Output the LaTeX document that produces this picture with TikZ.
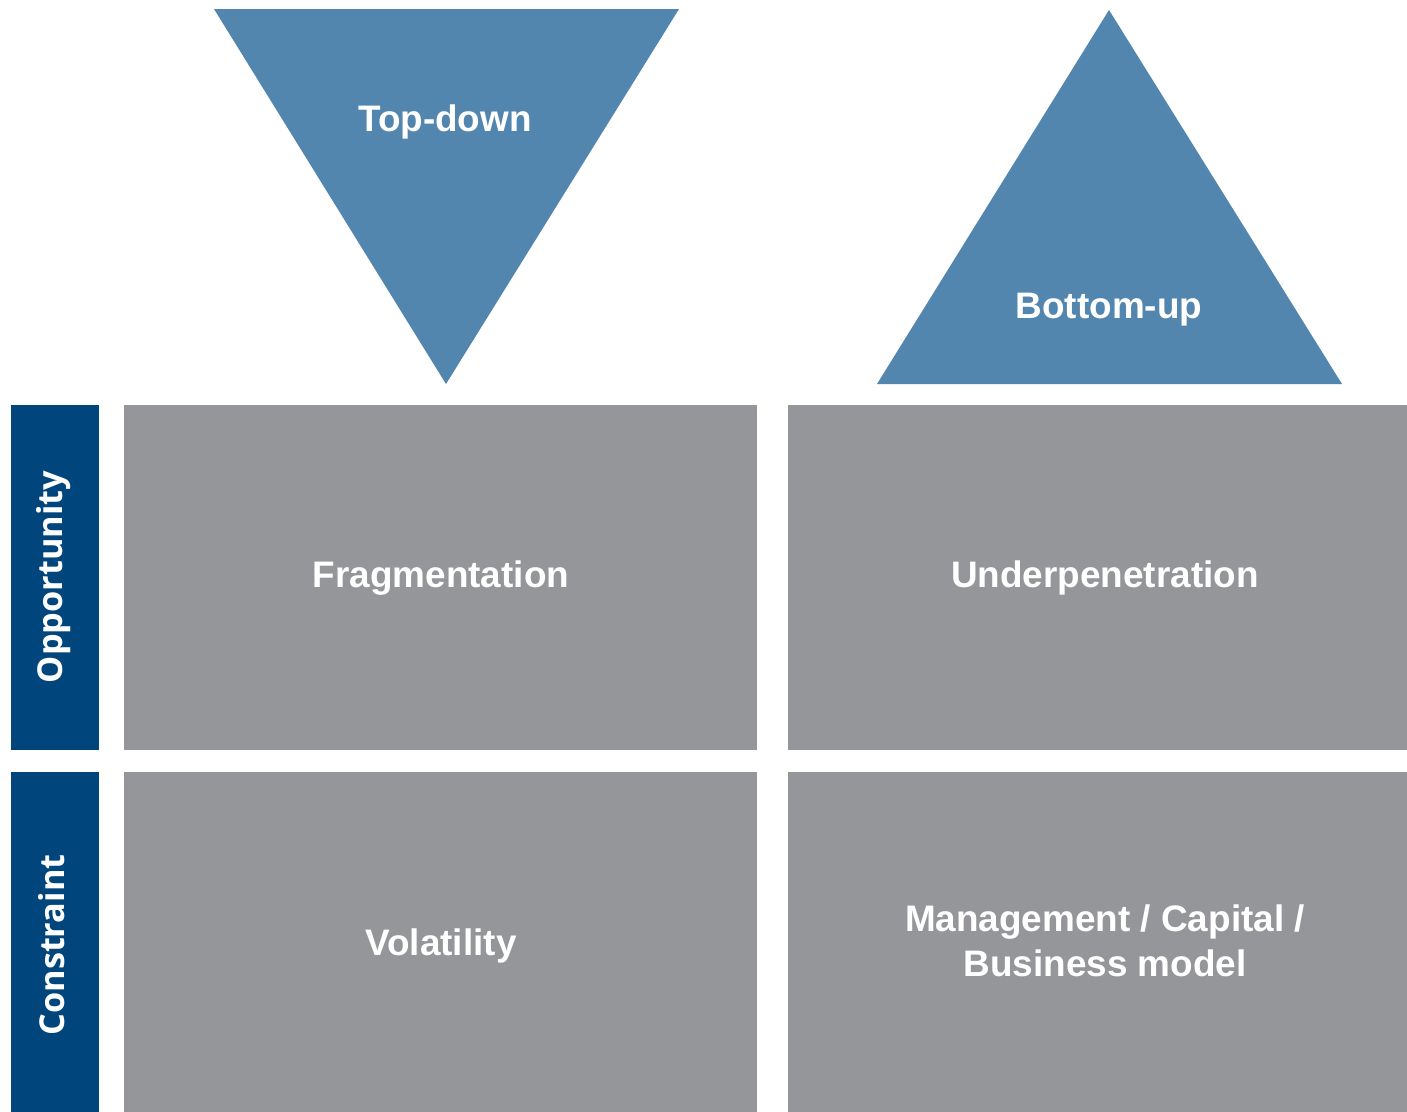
\documentclass[tikz,border=0pt]{standalone}
\usepackage{fontspec}
\setmainfont{Liberation Sans}
\newfontfamily\sidefont{Open Sans}
\usetikzlibrary{calc}
\definecolor{triblue}{HTML}{5386AF}
\definecolor{barblue}{HTML}{00457C}
\definecolor{boxgray}{HTML}{959699}
\tikzset{
  celltext/.style={text=white,font=\bfseries\fontsize{21}{25.5}\selectfont,align=center},
  sidetext/.style={text=white,font=\sidefont\bfseries\fontsize{19.5}{23}\selectfont,rotate=90}
}

\begin{document}
\begin{tikzpicture}[x=0.02cm,y=-0.02cm]
\useasboundingbox (0,0) rectangle (1407,1112);
%% triangles
\fill[triblue] (214,9) -- (679,9) -- (446,384) -- cycle;
\fill[triblue] (1109,10) -- (1342,384) -- (877,384) -- cycle;
\node[celltext] (topdown) at (445,122) {Top-down};
\node[celltext] (bottomup) at (1109,310) {Bottom-up};
%% side bars
\fill[barblue] (11,405) rectangle (99,750);
\fill[barblue] (11,772) rectangle (99,1112);
\node[sidetext] (opp) at (54,577) {Opportunity};
\node[sidetext] (con) at (52,945) {Constraint};
%% gray boxes
\fill[boxgray] (124,405) rectangle (757,750);
\fill[boxgray] (788,405) rectangle (1407,750);
\fill[boxgray] (124,772) rectangle (757,1112);
\fill[boxgray] (788,772) rectangle (1407,1112);
%% box labels
\node[celltext] (frag) at (441,578) {Fragmentation};
\node[celltext] (under) at (1105,578) {Underpenetration};
\node[celltext] (vol) at (441,946) {Volatility};
\node[celltext] (mgmt) at (1105,941) {Management / Capital /\\Business model};
\end{tikzpicture}
\end{document}
